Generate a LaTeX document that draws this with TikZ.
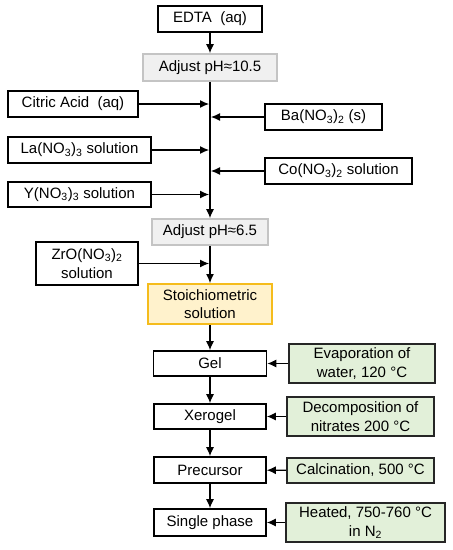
\documentclass[tikz,border=0pt]{standalone}
\usepackage{fontspec}
\setmainfont{Liberation Sans}
\usetikzlibrary{arrows.meta}
\definecolor{adjfill}{HTML}{F0F0F0}
\definecolor{adjline}{HTML}{C4C4C4}
\definecolor{stofill}{HTML}{FFF2CC}
\definecolor{stoline}{HTML}{F5BC1C}
\definecolor{condfill}{HTML}{E2F0D9}
\begin{document}
\begin{tikzpicture}[x=1pt, y=-1pt,
	every node/.style={font=\fontsize{15}{18.5}\selectfont, inner sep=0pt, align=center},
	box/.style={draw, line width=1.7pt, fill=white},
	adjbox/.style={draw=adjline, line width=1.7pt, fill=adjfill},
	stobox/.style={draw=stoline, line width=1.9pt, fill=stofill},
	condbox/.style={draw=black!85, line width=1.7pt, fill=condfill},
	flow/.style={line width=1.1pt, -{Latex[length=9pt, width=8pt]}}]
	\useasboundingbox (0, 0) rectangle (453, 550);
	% main line
	\node[box, minimum width=104, minimum height=26] (edta) at (210, 19) {EDTA\ \ (aq)};
	\node[adjbox, minimum width=134, minimum height=27] (adj1) at (210, 67.5) {Adjust pH≈10.5};
	\node[adjbox, minimum width=116, minimum height=26] (adj2) at (210, 232) {Adjust pH≈6.5};
	\node[stobox, minimum width=124, minimum height=40] (stoich) at (210, 304) {Stoichiometric\\solution};
	\node[box, minimum width=113, minimum height=25] (gel) at (210, 363.5) {Gel};
	\node[box, minimum width=112, minimum height=25] (xero) at (210, 416.5) {Xerogel};
	\node[box, minimum width=112, minimum height=26] (prec) at (210, 470) {Precursor};
	\node[box, minimum width=112, minimum height=27] (single) at (210, 522.5) {Single phase};
	% reagents
	\node[box, minimum width=130, minimum height=26] (citric) at (73, 104) {Citric Acid\ \ (aq)};
	\node[box, minimum width=117, minimum height=26] (ba) at (323.5, 117) {Ba(NO\textsubscript{3})\textsubscript{2} (s)};
	\node[box, minimum width=143, minimum height=26] (la) at (79.5, 150) {La(NO\textsubscript{3})\textsubscript{3} solution};
	\node[box, minimum width=147, minimum height=26] (co) at (338.5, 171) {Co(NO\textsubscript{3})\textsubscript{2} solution};
	\node[box, minimum width=143, minimum height=25] (yn) at (79.5, 194.5) {Y(NO\textsubscript{3})\textsubscript{3} solution};
	\node[box, minimum width=102, minimum height=43] (zro) at (87, 263.5) {ZrO(NO\textsubscript{3})\textsubscript{2}\\solution};
	% conditions
	\node[condbox, minimum width=146, minimum height=39] (evap) at (362, 363.5) {Evaporation of\\water, 120 °C};
	\node[condbox, minimum width=147, minimum height=39] (decomp) at (360.5, 416.5) {Decomposition of\\nitrates 200 °C};
	\node[condbox, minimum width=147, minimum height=25] (calc) at (360.5, 470.5) {Calcination, 500 °C};
	\node[condbox, minimum width=159, minimum height=39] (heat) at (365.5, 522.5) {Heated, 750-760 °C\\in N\textsubscript{2}};
	% arrows
	\draw[flow] (edta) -- (adj1);
	\draw[flow] (adj1) -- (adj2);
	\draw[flow] (adj2) -- (stoich);
	\foreach \a/\b in {stoich/gel, gel/xero, xero/prec, prec/single}{
		\draw[flow] (\a) -- (\b);
	}
	\foreach \r in {citric, la, yn}{
		\draw[flow] (\r.east) -- ([xshift=-1]\r -| adj1);
	}
	\draw[flow] (zro.east) -- ([xshift=-1]zro -| adj2);
	\foreach \r in {ba, co}{
		\draw[flow] (\r.west) -- ([xshift=1]\r -| adj1);
	}
	\foreach \c/\s in {evap/gel, decomp/xero, calc/prec, heat/single}{
		\draw[flow] (\c) -- (\s);
	}
\end{tikzpicture}
\end{document}
